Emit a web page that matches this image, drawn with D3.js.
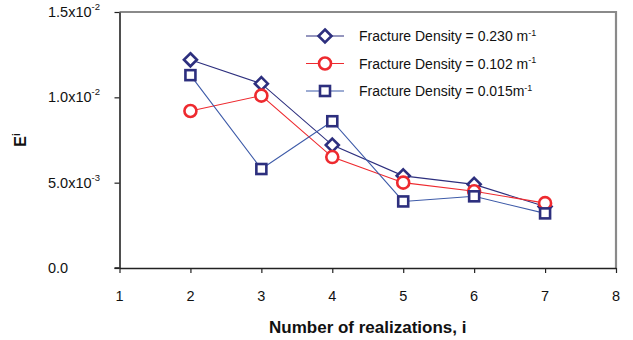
<!DOCTYPE html>
<html>
<head>
<meta charset="utf-8">
<script src="https://cdn.jsdelivr.net/npm/d3@7"></script>
<style>
  body { margin: 0; background: #fff; }
  svg { font-family: "Liberation Sans", Arial, sans-serif; }
</style>
</head>
<body>
<div id="chart"></div>
<script>
// data
const realizations = [2, 3, 4, 5, 6, 7];
const density230 = [0.0122, 0.0108, 0.0072, 0.0054, 0.0049, 0.0036];
const density102 = [0.0092, 0.0101, 0.0065, 0.0050, 0.0045, 0.0038];
const density015 = [0.0113, 0.0058, 0.0086, 0.0039, 0.0042, 0.0032];
const xTicks = [1, 2, 3, 4, 5, 6, 7, 8];
const yTicks = [0, 0.005, 0.01, 0.015];
const yTickLabels = [["0.0", ""], ["5.0x10", "-3"], ["1.0x10", "-2"], ["1.5x10", "-2"]];
const seriesNames = ["Fracture Density = 0.230 m", "Fracture Density = 0.102 m", "Fracture Density = 0.015m"];

const width = 633, height = 340;
const margin = { left: 119.5, top: 12, right: 17, bottom: 72 };

const svg = d3.select("#chart").append("svg")
  .attr("width", width)
  .attr("height", height);

const x = d3.scaleLinear().domain([1, 8]).range([margin.left, width - margin.right]);
const y = d3.scaleLinear().domain([0, 0.015]).range([height - margin.bottom, margin.top]);

// gray frame top / right
svg.append("path")
  .attr("d", `M${x(1)},${y(0.015)}H${x(8)}V${y(0)}`)
  .attr("fill", "none")
  .attr("stroke", "#8a8a8a")
  .attr("stroke-width", 2.2);

// axes
const yAxis = svg.append("g")
  .attr("transform", `translate(${x(1)},0)`)
  .call(d3.axisLeft(y).tickValues(yTicks).tickFormat("").tickSize(5).tickSizeOuter(0));
const xAxis = svg.append("g")
  .attr("transform", `translate(0,${y(0)})`)
  .call(d3.axisBottom(x).tickValues(xTicks).tickFormat("").tickSize(5).tickSizeOuter(0));
[yAxis, xAxis].forEach(a => {
  a.select(".domain").attr("stroke", "#222").attr("stroke-width", 1.6);
  a.selectAll(".tick line").attr("stroke", "#222").attr("stroke-width", 1.2);
});
// let the axis lines cross a bit at the origin
svg.append("line").attr("x1", x(1) - 5).attr("x2", x(1)).attr("y1", y(0)).attr("y2", y(0))
  .attr("stroke", "#222").attr("stroke-width", 1.6);

// y tick labels with superscripts
yTicks.forEach((v, i) => {
  const t = svg.append("text")
    .attr("x", 48)
    .attr("y", y(v) + 5)
    .attr("font-size", 14.5)
    .attr("fill", "#111");
  t.append("tspan").text(yTickLabels[i][0]);
  if (yTickLabels[i][1]) {
    t.append("tspan").attr("dy", -7).attr("font-size", 9.5).text(yTickLabels[i][1]);
  }
});

// x tick labels
svg.selectAll(".xlab").data(xTicks).join("text")
  .attr("class", "xlab")
  .attr("x", d => x(d))
  .attr("y", y(0) + 33)
  .attr("text-anchor", "middle")
  .attr("font-size", 14.5)
  .attr("fill", "#111")
  .text(d => d);

// axis titles
svg.append("text")
  .attr("x", (x(1) + x(8)) / 2)
  .attr("y", 333)
  .attr("text-anchor", "middle")
  .attr("font-size", 17)
  .attr("font-weight", "bold")
  .attr("fill", "#111")
  .text("Number of realizations, i");

const yTitle = svg.append("text")
  .attr("transform", "translate(26,140) rotate(-90)")
  .attr("text-anchor", "middle")
  .attr("font-size", 16)
  .attr("font-weight", "bold")
  .attr("fill", "#111");
yTitle.append("tspan").text("E");
yTitle.append("tspan").attr("dy", -6).attr("font-size", 10).text("i");

// series
const series = [
  { name: seriesNames[0], values: density230, line: "#2d2f7e", mark: "#2d2f7e", shape: "diamond" },
  { name: seriesNames[1], values: density102, line: "#ee2a2f", mark: "#ee2a2f", shape: "circle" },
  { name: seriesNames[2], values: density015, line: "#3d5aa8", mark: "#2d2f7e", shape: "square" }
];

const line = d3.line().x((d, i) => x(realizations[i])).y(d => y(d));

function drawMarker(g, shape, color) {
  if (shape === "diamond") {
    g.append("path").attr("d", "M0,-6.5L6.5,0L0,6.5L-6.5,0Z")
      .attr("fill", "#fff").attr("stroke", color).attr("stroke-width", 2.6);
  } else if (shape === "circle") {
    g.append("circle").attr("r", 6)
      .attr("fill", "#fff").attr("stroke", color).attr("stroke-width", 2.6);
  } else {
    g.append("rect").attr("x", -5).attr("y", -5).attr("width", 10).attr("height", 10)
      .attr("fill", "#fff").attr("stroke", color).attr("stroke-width", 2.6);
  }
}

series.forEach(s => {
  svg.append("path")
    .attr("d", line(s.values))
    .attr("fill", "none")
    .attr("stroke", s.line)
    .attr("stroke-width", 1.1);
});
series.forEach(s => {
  s.values.forEach((v, i) => {
    const g = svg.append("g").attr("transform", `translate(${x(realizations[i])},${y(v)})`);
    drawMarker(g, s.shape, s.mark);
  });
});

// legend
const legendY = [36, 63.5, 91];
series.forEach((s, i) => {
  const g = svg.append("g").attr("transform", `translate(306,${legendY[i]})`);
  g.append("line").attr("x1", 0).attr("x2", 38)
    .attr("stroke", s.line).attr("stroke-width", 1.1);
  const m = g.append("g").attr("transform", "translate(19,0)");
  drawMarker(m, s.shape, s.mark);
  const t = g.append("text")
    .attr("x", 53)
    .attr("y", 5)
    .attr("font-size", 14)
    .attr("fill", "#111");
  t.append("tspan").text(s.name);
  t.append("tspan").attr("dy", -5.5).attr("font-size", 9).text("-1");
});
</script>
</body>
</html>
